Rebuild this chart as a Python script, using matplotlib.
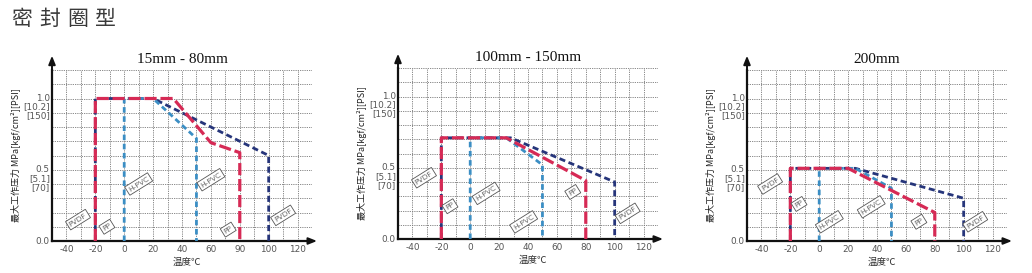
import matplotlib
matplotlib.use("Agg")
import matplotlib.pyplot as plt

plt.rcParams['font.family'] = ['Noto Sans CJK SC', 'DejaVu Sans']

W, H = 1032, 273

main_title = "密封圈型"
titles = ["15mm - 80mm", "100mm - 150mm", "200mm"]
xticks = [-40, -20, 0, 20, 40, 60, 80, 100, 120]
xtick_labels = [
    ["-40", "-20", "0", "20", "40", "60", "90", "100", "120"],
    ["-40", "-20", "0", "20", "40", "60", "80", "100", "120"],
    ["-40", "-20", "0", "20", "40", "60", "80", "100", "120"],
]
yticks = [0.0, 0.5, 1.0]
ytick_labels = ["0.0", "0.5\n[5.1]\n[70]", "1.0\n[10.2]\n[150]"]
ylabel = "最大工作压力 MPa[kgf/cm²][PSI]"
xlabel = "温度℃"

# chart 1 : 15mm - 80mm
pvdf1_x = [-20, -20, 20, 100, 100]
pvdf1_y = [0.0, 1.0, 1.0, 0.60, 0.0]
hpvc1_x = [0, 0, 20, 50, 50]
hpvc1_y = [0.0, 1.0, 1.0, 0.72, 0.0]
pp1_x = [-20, -20, 34, 60, 80, 80]
pp1_y = [0.0, 1.0, 1.0, 0.69, 0.62, 0.0]

# chart 2 : 100mm - 150mm
pvdf2_x = [-20, -20, 28, 100, 100]
pvdf2_y = [0.0, 0.71, 0.71, 0.40, 0.0]
hpvc2_x = [0, 0, 25, 50, 50]
hpvc2_y = [0.0, 0.71, 0.71, 0.52, 0.0]
pp2_x = [-20, -20, 25, 80, 80]
pp2_y = [0.0, 0.71, 0.71, 0.41, 0.0]

# chart 3 : 200mm
pvdf3_x = [-20, -20, 25, 100, 100]
pvdf3_y = [0.0, 0.51, 0.51, 0.30, 0.0]
hpvc3_x = [0, 0, 25, 50, 50]
hpvc3_y = [0.0, 0.51, 0.51, 0.37, 0.0]
pp3_x = [-20, -20, 20, 80, 80]
pp3_y = [0.0, 0.51, 0.51, 0.20, 0.0]

# material tags (text, x, y) per chart
tags1 = [("PVDF", -32, 0.15), ("PP", -12, 0.10), ("H-PVC", 10, 0.40),
         ("H-PVC", 60, 0.43), ("PP", 72, 0.08), ("PVDF", 110, 0.18)]
tags2 = [("PVDF", -32, 0.43), ("PP", -14, 0.23), ("H-PVC", 11, 0.32),
         ("H-PVC", 37, 0.12), ("PP", 71, 0.33), ("PVDF", 109, 0.18)]
tags3 = [("PVDF", -34, 0.40), ("PP", -14, 0.26), ("H-PVC", 7, 0.135),
         ("H-PVC", 36, 0.24), ("PP", 69, 0.135), ("PVDF", 108, 0.135)]

charts = [
    (pvdf1_x, pvdf1_y, hpvc1_x, hpvc1_y, pp1_x, pp1_y, tags1),
    (pvdf2_x, pvdf2_y, hpvc2_x, hpvc2_y, pp2_x, pp2_y, tags2),
    (pvdf3_x, pvdf3_y, hpvc3_x, hpvc3_y, pp3_x, pp3_y, tags3),
]

# axes pixel boxes: left, top, right, bottom
boxes = [(52, 70, 312, 241), (398, 68, 658, 239), (747, 70, 1007, 241)]

C_PVDF = "#26357a"
C_HPVC = "#3b8ec4"
C_PP = "#d62a55"

fig = plt.figure(figsize=(W / 100, H / 100), dpi=100)
fig.patch.set_facecolor("white")

# main title with wide letter spacing
for i, ch in enumerate(main_title):
    fig.text((11 + i * 28) / W, 1 - 19 / H, ch, fontsize=15, color="#3a3a3a",
             va="center", ha="left", family=['Noto Sans CJK SC', 'DejaVu Sans'])

for k, (box, ch) in enumerate(zip(boxes, charts)):
    l, t, r, b = box
    ax = fig.add_axes([l / W, 1 - b / H, (r - l) / W, (b - t) / H])
    ax.set_xlim(-50, 130)
    ax.set_ylim(0, 1.2)
    ax.set_xticks(range(-50, 131, 10), minor=False)
    ax.set_yticks([i / 10 for i in range(0, 13)])
    ax.grid(True, color="#7a7a7a", linestyle=(0, (1.5, 1.2)), linewidth=0.6)
    ax.tick_params(length=0, labelbottom=False, labelleft=False)
    for s in ["top", "right"]:
        ax.spines[s].set_visible(False)
    for s in ["left", "bottom"]:
        ax.spines[s].set_linewidth(1.6)
        ax.spines[s].set_color("#111111")
    # arrows
    ax.annotate("", xy=(0, 1.1), xytext=(0, 0.95), xycoords="axes fraction",
                arrowprops=dict(arrowstyle="-|>,head_length=0.5,head_width=0.2",
                                color="#111111", lw=1.4), annotation_clip=False)
    ax.annotate("", xy=(1.03, 0), xytext=(0.97, 0), xycoords="axes fraction",
                arrowprops=dict(arrowstyle="-|>,head_length=0.5,head_width=0.2",
                                color="#111111", lw=1.4), annotation_clip=False)

    px, py, hx, hy, rx, ry, tags = ch
    ax.plot(px, py, color=C_PVDF, lw=2.0, linestyle=(0, (2.2, 1.3)), zorder=3,
            clip_on=False)
    ax.plot(hx, hy, color=C_HPVC, lw=2.0, linestyle=(0, (2.0, 1.3)), zorder=4,
            clip_on=False)
    ax.plot(rx, ry, color=C_PP, lw=2.3, linestyle=(0, (3.8, 1.2)), zorder=5,
            clip_on=False)

    for txt, tx, ty in tags:
        ax.text(tx, ty, txt, fontsize=5.4, color="#666666", rotation=32,
                ha="center", va="center", family="DejaVu Sans", zorder=6,
                bbox=dict(boxstyle="square,pad=0.25", fc="white", ec="#555555", lw=0.6))

    # x tick labels
    for xv, lab in zip(xticks, xtick_labels[k]):
        ax.text(xv, -0.03, lab, fontsize=6.4, color="#555555", ha="center",
                va="top", family="DejaVu Sans")
    # y tick labels
    for yv, lab in zip(yticks, ytick_labels):
        if lab == "0.0":
            ax.text(-51.5, yv, lab, fontsize=6.4, color="#555555", ha="right",
                    va="center", family="DejaVu Sans")
        else:
            ax.text(-51.5, yv + 0.035, lab, fontsize=6.4, color="#555555",
                    ha="right", va="top", family="DejaVu Sans", linespacing=1.0)
    ax.text(-0.138, 0.5, ylabel, rotation=90, fontsize=6.5, color="#222222",
            ha="center", va="center", transform=ax.transAxes)
    ax.text(0.52, -0.125, xlabel, fontsize=6.8, color="#333333", ha="center",
            va="center", transform=ax.transAxes)
    ax.text(0.5, 1.06, titles[k], fontsize=11, color="#111111", ha="center",
            va="center", transform=ax.transAxes, family="Liberation Serif")

fig.savefig("out.png", dpi=100, facecolor="white")
